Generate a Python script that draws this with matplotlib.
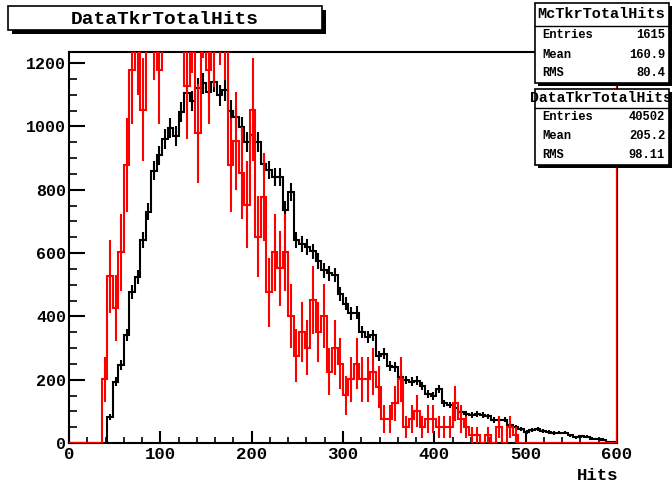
import matplotlib
matplotlib.use("Agg")
import matplotlib.pyplot as plt
import numpy as np
from matplotlib.patches import Rectangle
from matplotlib.ticker import MultipleLocator

# 100 bins of width 6 between 0 and 600
bin_edges = np.linspace(0, 600, 101)

# data histogram (black), bin contents
data_hits = [
    0, 0, 0, 0, 0, 0, 0, 83, 193, 246,
    341, 477, 525, 640, 730, 860, 909, 960, 994, 970,
    1045, 1106, 1080, 1120, 1136, 1110, 1141, 1099, 1115, 1050,
    1030, 999, 950, 972, 951, 880, 862, 840, 841, 736,
    793, 640, 628, 620, 605, 575, 545, 536, 530, 470,
    440, 410, 412, 351, 335, 340, 275, 282, 244, 241,
    207, 199, 194, 197, 180, 155, 148, 170, 125, 120,
    110, 98, 92, 90, 91, 89, 84, 73, 72, 74,
    57, 50, 44, 35, 42, 43, 38, 35, 31, 33,
    33, 25, 18, 22, 20, 14, 13, 11, 4, 2,
]

# MC histogram (red), raw counts before scaling to the data entries
mc_counts = [
    0, 0, 0, 0, 0, 0, 8, 21, 17, 24,
    35, 47, 51, 42, 57, 53, 47, 58, 60, 62,
    59, 45, 54, 39, 56, 47, 52, 55, 53, 35,
    38, 34, 30, 42, 26, 31, 19, 24, 22, 24,
    16, 11, 14, 12, 18, 14, 16, 9, 12, 10,
    6, 8, 10, 8, 8, 9, 7, 3, 3, 5,
    8, 2, 3, 4, 2, 3, 3, 2, 2, 2,
    5, 3, 2, 1, 1, 0, 1, 0, 2, 0,
    2, 1, 0, 0, 0, 0, 0, 0, 0, 0,
    0, 0, 0, 0, 0, 0, 0, 0, 0, 0,
]

data_stats = [("Entries", "40502"), ("Mean", "205.2"), ("RMS", "98.11")]
mc_stats = [("Entries", "1615"), ("Mean", "160.9"), ("RMS", "80.4")]
mc_scale = 40502 / 1615

W, H = 672, 483
FONT = "Liberation Mono"


def fx(px):
    return px / W


def fy(py):
    return 1 - py / H


def pave(x0, y0, x1, y1, shadow=3):
    fig.add_artist(Rectangle((fx(x0 + shadow), fy(y1 + shadow)), (x1 - x0) / W, (y1 - y0) / H,
                             transform=fig.transFigure, facecolor="black", edgecolor="none"))
    fig.add_artist(Rectangle((fx(x0), fy(y1)), (x1 - x0) / W, (y1 - y0) / H,
                             transform=fig.transFigure, facecolor="white", edgecolor="black", lw=1.2))


def stats_box(y0, y1, ysep, title, rows, title_size):
    pave(535, y0, 669, y1, shadow=3)
    fig.add_artist(plt.Line2D([fx(535), fx(669)], [fy(ysep), fy(ysep)],
                              transform=fig.transFigure, color="black", lw=1.0))
    fig.text(fx(601), fy((y0 + ysep) / 2), title, ha="center", va="center",
             family=FONT, weight="bold", fontsize=title_size)
    row_h = (y1 - ysep) / len(rows)
    for i, (k, v) in enumerate(rows):
        yc = ysep + row_h * (i + 0.5)
        fig.text(fx(542), fy(yc), k, ha="left", va="center", family=FONT, weight="bold", fontsize=8.7)
        fig.text(fx(665), fy(yc), v, ha="right", va="center", family=FONT, weight="bold", fontsize=8.7)


fig = plt.figure(figsize=(6.72, 4.83), dpi=100)
ax = fig.add_axes([fx(69), fy(443), (617 - 69) / W, (443 - 52) / H])

data = np.array(data_hits, dtype=float)
mc = np.array(mc_counts, dtype=float) * mc_scale
mc_err = np.sqrt(np.array(mc_counts, dtype=float)) * mc_scale
centers = 0.5 * (bin_edges[:-1] + bin_edges[1:])

# data: step outline plus error bars
ax.stairs(data, bin_edges, baseline=0, color="black", lw=1.5, zorder=3)
m = data > 0
ax.vlines(centers[m], data[m] - np.sqrt(data[m]), data[m] + np.sqrt(data[m]),
          color="black", lw=1.5, zorder=3)

# MC scaled: step outline plus error bars
ax.stairs(mc, bin_edges, baseline=0, color="red", lw=1.5, zorder=4)
m = mc > 0
ax.vlines(centers[m], mc[m] - mc_err[m], mc[m] + mc_err[m], color="red", lw=1.5, zorder=4)
ax.axvline(600, color="red", lw=1.5, zorder=5)

ax.set_xlim(0, 600)
ax.set_ylim(0, 1235)
ax.xaxis.set_major_locator(MultipleLocator(100))
ax.xaxis.set_minor_locator(MultipleLocator(20))
ax.yaxis.set_major_locator(MultipleLocator(200))
ax.yaxis.set_minor_locator(MultipleLocator(50))
ax.tick_params(axis="x", which="major", direction="in", length=8.5, width=1.5, pad=3)
ax.tick_params(axis="x", which="minor", direction="in", length=4.3, width=1.2)
ax.tick_params(axis="y", which="major", direction="in", length=11.5, width=1.5, pad=2)
ax.tick_params(axis="y", which="minor", direction="in", length=5.8, width=1.2)
for lab in ax.get_xticklabels():
    lab.set_family(FONT)
    lab.set_weight("bold")
    lab.set_fontsize(12.5)
for lab in ax.get_yticklabels():
    lab.set_family(FONT)
    lab.set_weight("bold")
    lab.set_fontsize(12)
for s in ax.spines.values():
    s.set_linewidth(1.5)

# title pave
pave(8, 6, 322, 30, shadow=4)
fig.text(fx(165), fy(19), "DataTkrTotalHits", ha="center", va="center",
         family=FONT, weight="bold", fontsize=14)

stats_box(3, 83, 26, "McTkrTotalHits", mc_stats, 11)
stats_box(89, 165, 108, "DataTkrTotalHits", data_stats, 10.6)

fig.text(fx(618), fy(475), "Hits", ha="right", va="center", family=FONT, weight="bold", fontsize=12.5)

fig.savefig("out.png", dpi=100)
